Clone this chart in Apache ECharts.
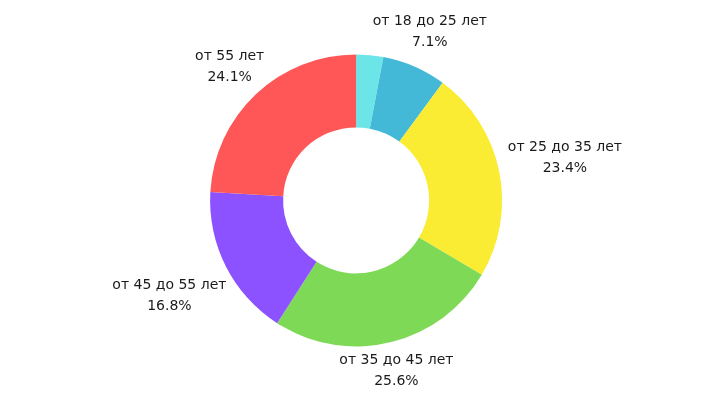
<!DOCTYPE html>
<html>
<head>
<meta charset="utf-8">
<script src="https://cdn.jsdelivr.net/npm/echarts@6/dist/echarts.min.js"></script>
<style>
html,body{margin:0;padding:0;background:#fff;}
#chart{width:701px;height:396px;}
</style>
</head>
<body>
<div id="chart"></div>
<script>
var categories = ['до 18 лет', 'от 18 до 25 лет', 'от 25 до 35 лет', 'от 35 до 45 лет', 'от 45 до 55 лет', 'от 55 лет'];
var values = [3.0, 7.1, 23.4, 25.6, 16.8, 24.1];
var showLabel = [false, true, true, true, true, true];
var colors = ['#6ce5e8', '#43b9d7', '#faeb33', '#7ed957', '#8c52ff', '#ff5757'];

var data = categories.map(function (c, i) {
  return { name: c, value: values[i], label: { show: showLabel[i] } };
});

var chart = echarts.init(document.getElementById('chart'), null, { renderer: 'canvas' });
var GAP = 10;
var HH_TRIM = 15;
chart.setOption({
  animation: false,
  color: colors,
  series: [{
    type: 'pie',
    center: ['50.8%', '50.6%'],
    radius: [73, 146],
    startAngle: 90,
    clockwise: true,
    avoidLabelOverlap: false,
    data: data,
    itemStyle: { borderWidth: 0 },
    label: {
      show: true,
      position: 'outside',
      fontFamily: 'DejaVu Sans',
      fontSize: 14,
      lineHeight: 21,
      color: '#1a1a1a',
      formatter: function (p) { return p.name + '\n' + p.value.toFixed(1) + '%'; }
    },
    labelLine: { show: true, length: 10, length2: 0, lineStyle: { opacity: 0, width: 0 } },
    labelLayout: function (p) {
      var pts = p.labelLinePoints;
      if (!pts) return {};
      var vx = pts[1][0] - pts[0][0], vy = pts[1][1] - pts[0][1];
      var len = Math.sqrt(vx * vx + vy * vy) || 1;
      var dx = vx / len, dy = vy / len;
      var hw = p.labelRect.width / 2, hh = p.labelRect.height / 2 - HH_TRIM;
      var d = GAP + hw * Math.abs(dx) + hh * Math.abs(dy);
      return {
        x: pts[0][0] + dx * d,
        y: pts[0][1] + dy * d,
        align: 'center',
        verticalAlign: 'middle'
      };
    }
  }]
});
</script>
</body>
</html>
